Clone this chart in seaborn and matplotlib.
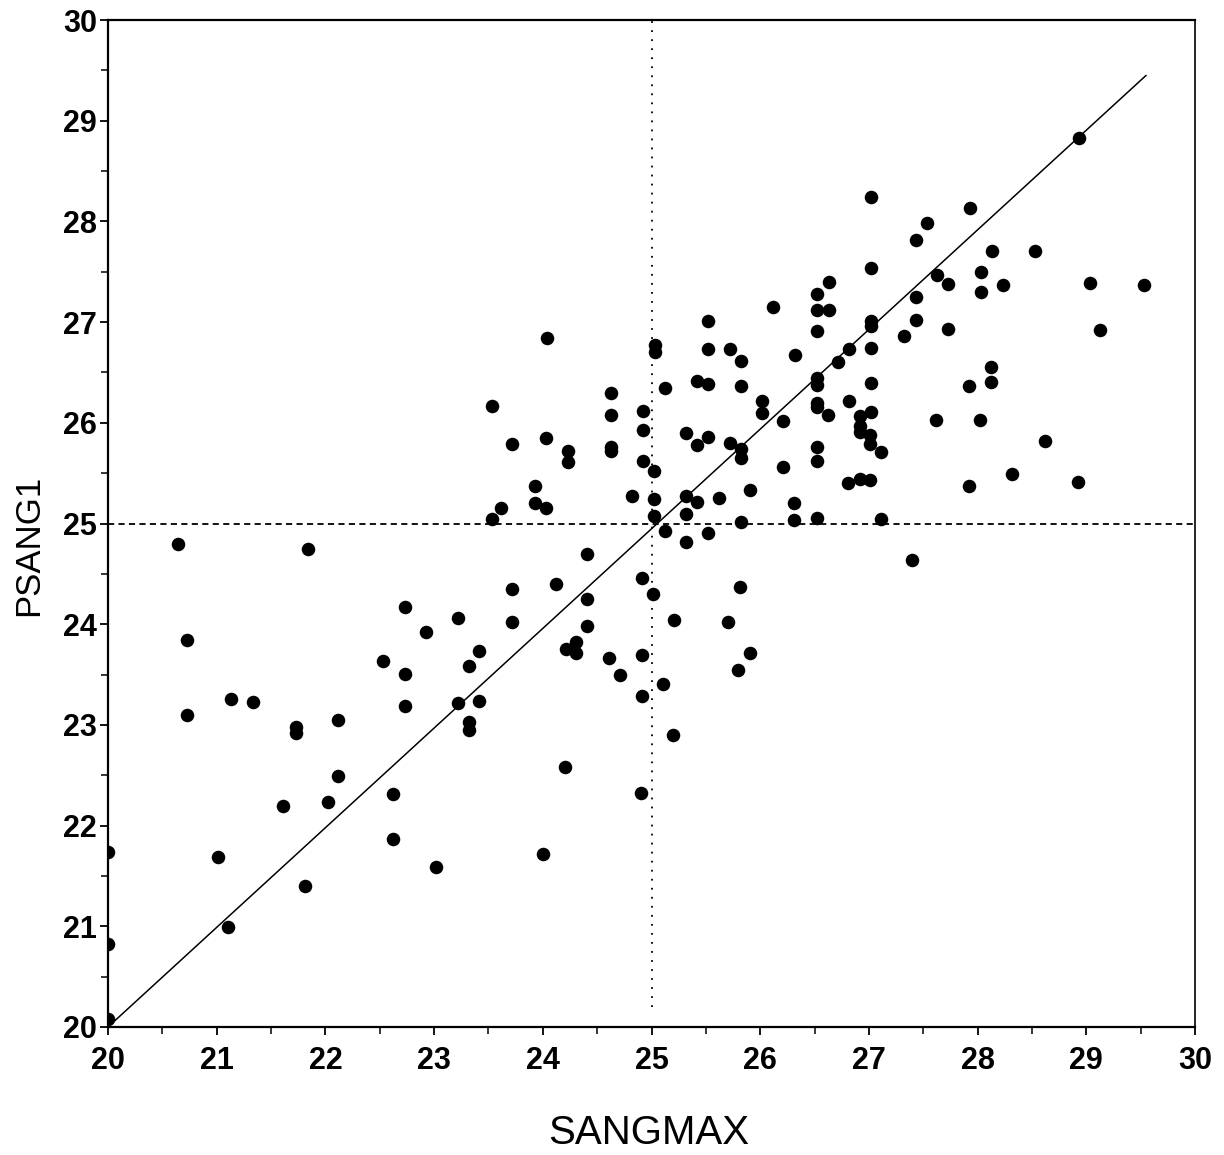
import matplotlib
matplotlib.use("Agg")
import matplotlib.pyplot as plt
import seaborn as sns
import pandas as pd
from matplotlib.ticker import MultipleLocator

# SANGMAX / PSANG1 paired observations
sangmax = [
    20.00, 20.00, 20.00, 20.64, 20.73, 20.73, 21.01, 21.10, 21.13, 21.33,
    21.61, 21.73, 21.73, 21.81, 21.84, 22.02, 22.12, 22.12, 22.53, 22.62,
    22.62, 22.73, 22.73, 22.73, 22.93, 23.02, 23.22, 23.22, 23.32, 23.32,
    23.32, 23.41, 23.41, 23.53, 23.53, 23.62, 23.72, 23.72, 23.72, 23.93,
    23.93, 24.03, 24.03, 24.04, 24.00, 24.12, 24.20, 24.21, 24.23, 24.23,
    24.31, 24.31, 24.41, 24.41, 24.41, 24.61, 24.63, 24.63, 24.63, 24.63,
    24.71, 24.82, 24.90, 24.91, 24.91, 24.91, 24.92, 24.92, 24.92, 25.01,
    25.02, 25.02, 25.02, 25.03, 25.03, 25.11, 25.12, 25.12, 25.20, 25.21,
    25.32, 25.32, 25.32, 25.32, 25.42, 25.42, 25.42, 25.52, 25.52, 25.52,
    25.52, 25.52, 25.62, 25.70, 25.72, 25.72, 25.80, 25.81, 25.82, 25.82,
    25.82, 25.82, 25.82, 25.91, 25.91, 26.02, 26.02, 26.12, 26.21, 26.21,
    26.31, 26.31, 26.32, 26.52, 26.52, 26.52, 26.52, 26.52, 26.52, 26.52,
    26.52, 26.52, 26.52, 26.63, 26.63, 26.62, 26.72, 26.82, 26.82, 26.81,
    26.92, 26.92, 26.92, 26.92, 27.02, 27.02, 27.02, 27.02, 27.02, 27.02,
    27.02, 27.01, 27.01, 27.01, 27.11, 27.11, 27.32, 27.40, 27.43, 27.43,
    27.43, 27.53, 27.62, 27.63, 27.73, 27.73, 27.92, 27.92, 27.93, 28.02,
    28.03, 28.03, 28.12, 28.12, 28.13, 28.23, 28.32, 28.53, 28.62, 28.92,
    28.93, 29.03, 29.13, 29.53,
]
psang1 = [
    20.08, 20.82, 21.74, 24.80, 23.84, 23.10, 21.69, 20.99, 23.26, 23.23,
    22.19, 22.98, 22.92, 21.40, 24.75, 22.23, 23.05, 22.49, 23.63, 22.31,
    21.87, 24.17, 23.51, 23.19, 23.92, 21.59, 24.06, 23.22, 23.58, 23.03,
    22.95, 23.73, 23.24, 26.17, 25.04, 25.15, 25.79, 24.35, 24.02, 25.37,
    25.20, 25.85, 25.15, 26.84, 21.72, 24.40, 22.58, 23.75, 25.72, 25.61,
    23.82, 23.71, 24.70, 24.25, 23.98, 23.66, 26.30, 26.08, 25.76, 25.72,
    23.50, 25.27, 22.32, 24.46, 23.69, 23.29, 26.12, 25.93, 25.62, 24.30,
    25.52, 25.24, 25.07, 26.77, 26.70, 23.41, 26.35, 24.93, 22.90, 24.04,
    25.90, 25.27, 25.09, 24.82, 26.42, 25.78, 25.21, 27.01, 26.73, 26.39,
    25.86, 24.91, 25.25, 24.02, 26.73, 25.80, 23.55, 24.37, 26.61, 26.37,
    25.74, 25.65, 25.01, 25.33, 23.71, 26.22, 26.10, 27.15, 26.02, 25.56,
    25.20, 25.03, 26.67, 27.28, 27.12, 26.91, 26.44, 26.38, 26.20, 26.16,
    25.76, 25.62, 25.05, 27.40, 27.12, 26.08, 26.60, 26.73, 26.22, 25.40,
    26.07, 25.97, 25.91, 25.44, 28.24, 27.54, 27.01, 26.96, 26.74, 26.40,
    26.11, 25.88, 25.79, 25.43, 25.71, 25.04, 26.86, 24.64, 27.82, 27.25,
    27.02, 27.98, 26.03, 27.47, 27.38, 26.93, 26.37, 25.37, 28.13, 26.03,
    27.50, 27.30, 26.55, 26.41, 27.71, 27.37, 25.49, 27.71, 25.82, 25.41,
    28.83, 27.39, 26.92, 27.37,
]

# Fitted line end points and reference cut-offs
fit_x = [20.0, 29.55]
fit_y = [20.0, 29.45]
cutoff = 25.0

axis_min, axis_max = 20, 30
tick_values = list(range(20, 31))
tick_labels = [str(v) for v in tick_values]

df = pd.DataFrame({"SANGMAX": sangmax, "PSANG1": psang1})

sns.set_theme(style="ticks")
plt.rcParams["font.family"] = ["Liberation Sans", "DejaVu Sans"]

fig = plt.figure(figsize=(12.24, 11.55), dpi=100)
ax = fig.add_axes([108 / 1224, 1 - 1027 / 1155, 1087 / 1224, 1007 / 1155])

sns.scatterplot(data=df, x="SANGMAX", y="PSANG1", ax=ax, color="black",
                s=95, linewidth=0, zorder=3, legend=False)

ax.plot(fit_x, fit_y, color="black", lw=1.1, zorder=2)
ax.plot([axis_min, axis_max], [cutoff, cutoff], color="black", lw=1.3,
        linestyle=(0, (3.4, 2.4)), zorder=1)
ax.plot([cutoff, cutoff], [20.2, axis_max], color="black", lw=1.3,
        linestyle=(0, (1, 4)), zorder=1)

ax.set_xlim(axis_min, axis_max)
ax.set_ylim(axis_min, axis_max)
ax.set_xticks(tick_values)
ax.set_xticklabels(tick_labels)
ax.set_yticks(tick_values)
ax.set_yticklabels(tick_labels)
ax.xaxis.set_minor_locator(MultipleLocator(0.5))
ax.yaxis.set_minor_locator(MultipleLocator(0.5))

for side in ["left", "bottom", "top"]:
    ax.spines[side].set_linewidth(1.6)
    ax.spines[side].set_color("black")
ax.spines["right"].set_linewidth(1.2)
ax.spines["right"].set_color("black")

ax.tick_params(axis="both", which="major", direction="out", length=6,
               width=1.3, color="black", labelsize=22, labelcolor="black")
ax.tick_params(axis="both", which="minor", direction="out", length=5,
               width=1.1, color="black")
ax.tick_params(axis="x", which="major", pad=8)
ax.tick_params(axis="y", which="major", pad=2)
for lab in ax.get_xticklabels() + ax.get_yticklabels():
    lab.set_fontweight("bold")

ax.set_xlabel("SANGMAX", fontsize=29, color="black")
ax.set_ylabel("PSANG1", fontsize=25, color="black")
ax.xaxis.set_label_coords(0.497, -0.105)
ax.xaxis.label.set_verticalalignment("center")
ax.yaxis.set_label_coords(-0.073, 0.478)
ax.yaxis.label.set_verticalalignment("center")

fig.savefig("out.png", dpi=100, facecolor="white")
